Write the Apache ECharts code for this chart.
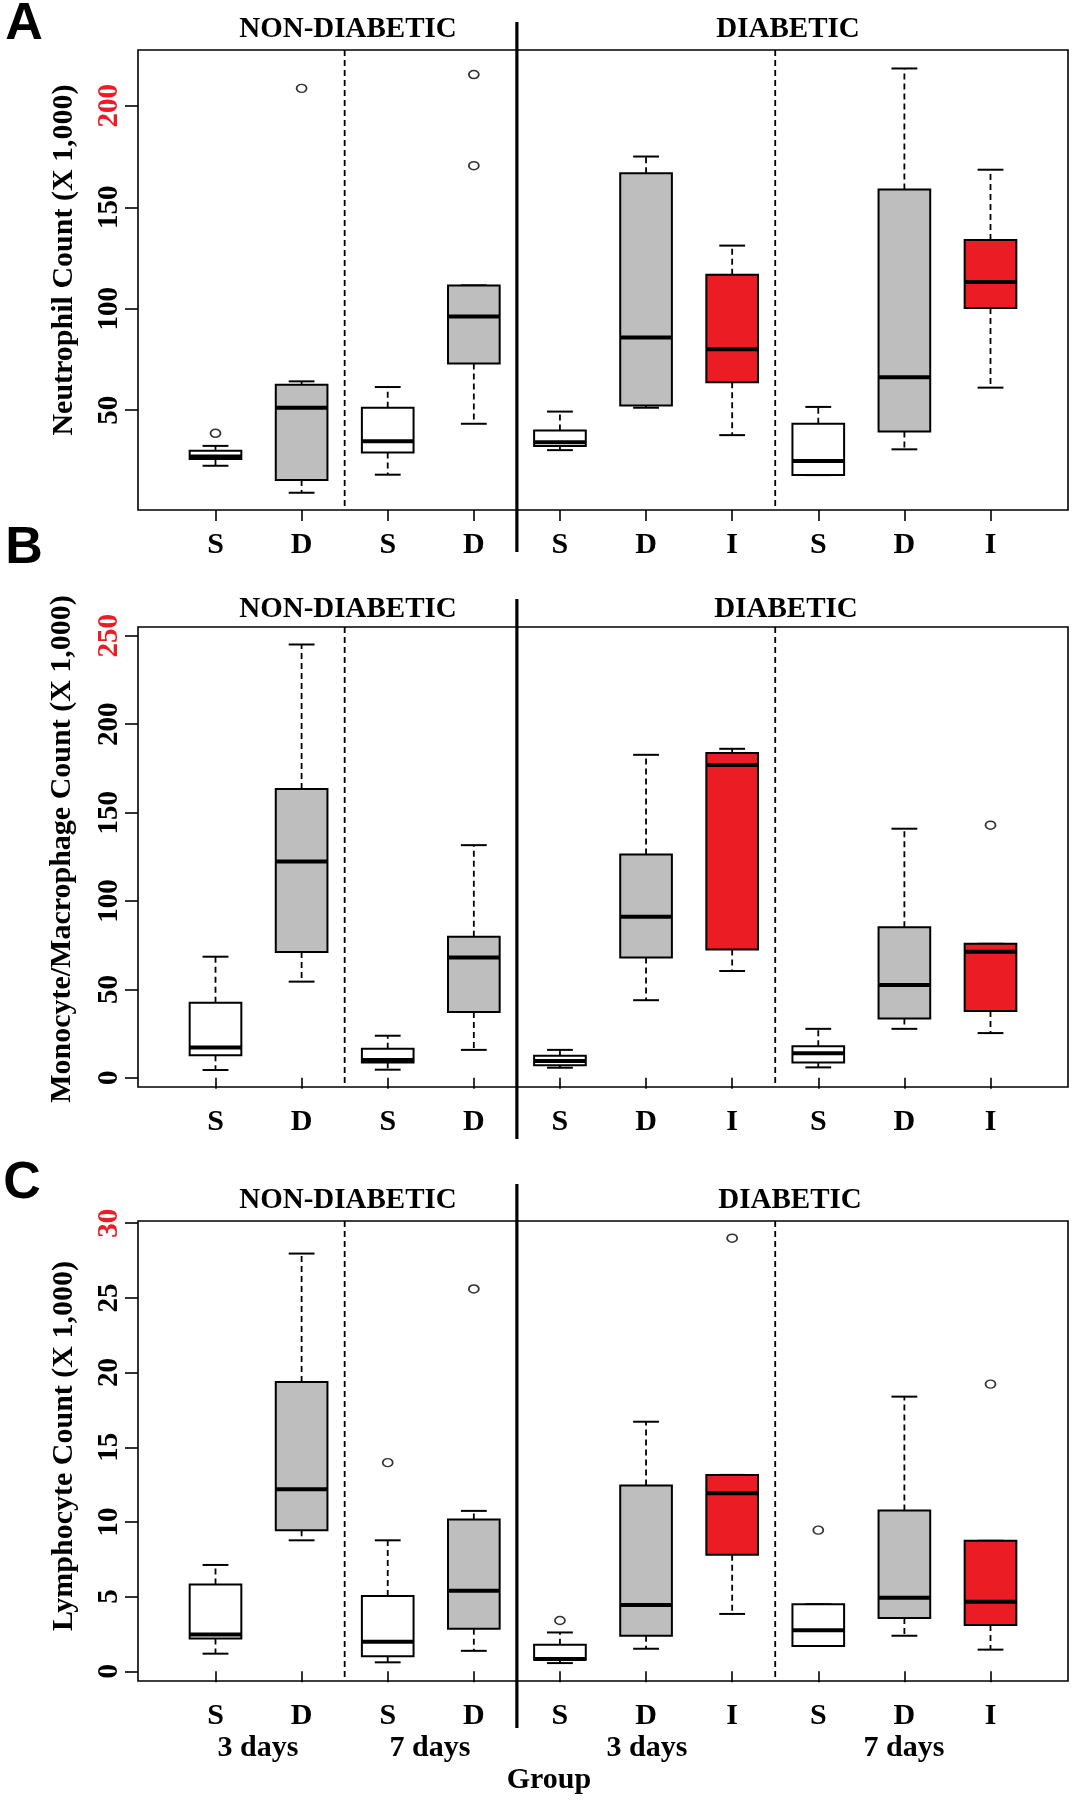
<!DOCTYPE html>
<html><head><meta charset="utf-8">
<script src="https://cdn.jsdelivr.net/npm/echarts@6/dist/echarts.min.js"></script>
<style>html,body{margin:0;padding:0;background:#fff}#c{width:1074px;height:1800px}</style>
</head><body><div id="c"></div><script>
// ---------- DATA ----------
const groupLabels = ['S','D','S','D','S','D','I','S','D','I'];
// five-number summaries: [lower whisker, Q1, median, Q3, upper whisker]
const neutrophilStats = [
  [22.6, 25.9, 27.2, 30.0, 32.4],
  [9.3, 15.6, 51.2, 62.5, 64.2],
  [18.2, 29.1, 34.7, 51.2, 61.4],
  [43.3, 73.0, 96.2, 111.5, 111.5],
  [30.3, 32.4, 34.2, 40.0, 49.3],
  [51.2, 52.3, 85.8, 166.8, 175.0],
  [37.7, 63.7, 80.0, 116.7, 131.1],
  [18.0, 18.0, 24.9, 43.3, 51.6],
  [30.7, 39.5, 66.2, 158.7, 218.4],
  [61.1, 100.4, 113.2, 133.9, 168.5]
];
const neutrophilOutliers = [[1, 38.6], [2, 208.6], [4, 170.5], [4, 215.4]];
const neutrophilTicks = [50, 100, 150, 200];
const neutrophilRange = [0.8, 227.5];

const monocyteStats = [
  [4.4, 12.7, 17.2, 42.4, 68.5],
  [54.4, 71.1, 122.3, 163.3, 245.1],
  [4.6, 8.7, 10.1, 16.4, 23.8],
  [15.8, 37.2, 68.1, 79.8, 131.6],
  [5.7, 7.1, 9.5, 12.5, 15.8],
  [43.9, 68.1, 91.1, 126.3, 182.7],
  [60.4, 72.6, 177.0, 183.7, 186.1],
  [5.9, 8.7, 13.9, 17.8, 27.7],
  [27.7, 33.5, 52.5, 85.1, 140.9],
  [25.3, 37.8, 71.3, 75.8, 75.8]
];
const monocyteOutliers = [[10, 142.9]];
const monocyteTicks = [0, 50, 100, 150, 200, 250];
const monocyteRange = [-5.2, 255];

const lymphocyteStats = [
  [1.18, 2.19, 2.47, 5.81, 7.12],
  [8.77, 9.45, 12.19, 19.37, 27.97],
  [0.6, 1.01, 1.97, 5.04, 8.77],
  [1.37, 2.85, 5.40, 10.16, 10.74],
  [0.55, 0.77, 0.82, 1.78, 2.60],
  [1.51, 2.38, 4.44, 12.44, 16.71],
  [3.84, 7.81, 11.92, 13.15, 13.15],
  [1.70, 1.70, 2.74, 4.49, 4.49],
  [2.38, 3.56, 4.93, 10.77, 18.39],
  [1.45, 3.10, 4.66, 8.74, 8.74]
];
const lymphocyteOutliers = [[3, 13.97], [4, 25.6], [5, 3.40], [7, 29.0], [8, 9.45], [10, 19.23]];
const lymphocyteTicks = [0, 5, 10, 15, 20, 25, 30];
const lymphocyteRange = [-0.65, 30.15];

const dayLabels = ['3 days', '7 days', '3 days', '7 days'];
const cohortLabels = ['NON-DIABETIC', 'DIABETIC'];
const panelLetters = ['A', 'B', 'C'];
const axisTitles = ['Neutrophil Count (X 1,000)', 'Monocyte/Macrophage Count (X 1,000)', 'Lymphocyte Count (X 1,000)'];
const dashedSeparators = [2.5, 7.5];
const thickSeparator = 4.5;

// ---------- STYLE ----------
const SERIF = '"Liberation Serif","Times New Roman",serif';
const SANS = '"Liberation Sans",Arial,sans-serif';
const FILLS = {S: '#ffffff', D: '#bebebe', I: '#ec1c24'};
const RED = '#ec1c24';
const BOX_W = 0.6, CAP_W = 0.3;

const panels = [
  {stats: neutrophilStats, out: neutrophilOutliers, ticks: neutrophilTicks, range: neutrophilRange,
   top: 50, sepTop: 28, sepBottom: 42},
  {stats: monocyteStats, out: monocyteOutliers, ticks: monocyteTicks, range: monocyteRange,
   top: 627, sepTop: 28, sepBottom: 52},
  {stats: lymphocyteStats, out: lymphocyteOutliers, ticks: lymphocyteTicks, range: lymphocyteRange,
   top: 1221, sepTop: 37, sepBottom: 47}
];
const GRID_H = 460;
const POSITIONS = groupLabels.map((_, i) => i + 1);

function renderBox(params, api) {
  const x = api.value(0);
  const lo = api.value(1), q1 = api.value(2), med = api.value(3), q3 = api.value(4), hi = api.value(5);
  const kind = groupLabels[api.value(6)];
  const bw = api.size([BOX_W, 0])[0];
  const cw = api.size([CAP_W, 0])[0];
  const c = v => api.coord([x, v]);
  const pLo = c(lo), pQ1 = c(q1), pMed = c(med), pQ3 = c(q3), pHi = c(hi);
  const cx = pMed[0];
  const dashed = {stroke: '#000', lineWidth: 1.8, lineDash: [6, 4]};
  const solid = {stroke: '#000', lineWidth: 2};
  return {type: 'group', children: [
    {type: 'line', shape: {x1: cx, y1: pQ1[1], x2: cx, y2: pLo[1]}, style: dashed},
    {type: 'line', shape: {x1: cx, y1: pQ3[1], x2: cx, y2: pHi[1]}, style: dashed},
    {type: 'line', shape: {x1: cx - cw / 2, y1: pLo[1], x2: cx + cw / 2, y2: pLo[1]}, style: solid},
    {type: 'line', shape: {x1: cx - cw / 2, y1: pHi[1], x2: cx + cw / 2, y2: pHi[1]}, style: solid},
    {type: 'rect', shape: {x: cx - bw / 2, y: pQ3[1], width: bw, height: pQ1[1] - pQ3[1]},
     style: {fill: FILLS[kind], stroke: '#000', lineWidth: 2}},
    {type: 'line', shape: {x1: cx - bw / 2, y1: pMed[1], x2: cx + bw / 2, y2: pMed[1]},
     style: {stroke: '#000', lineWidth: 4}}
  ]};
}

function makeSepRender(p) {
  return function (params, api) {
    const x = api.coord([api.value(0), p.range[0]])[0];
    const cs = params.coordSys;
    if (api.value(1) === 1) {
      return {type: 'line', shape: {x1: x, y1: cs.y - p.sepTop, x2: x, y2: cs.y + cs.height + p.sepBottom},
              style: {stroke: '#000', lineWidth: 3.2}};
    }
    return {type: 'line', shape: {x1: x, y1: cs.y, x2: x, y2: cs.y + cs.height},
            style: {stroke: '#000', lineWidth: 1.8, lineDash: [6, 4]}};
  };
}

const grid = [], xAxis = [], yAxis = [], series = [];
panels.forEach((p, k) => {
  grid.push({left: 138, right: 6, top: p.top, height: GRID_H, show: true,
             borderColor: '#000', borderWidth: 1.6, backgroundColor: 'transparent'});
  xAxis.push({type: 'value', gridIndex: k, min: 0.1, max: 10.9,
    axisLine: {show: false}, splitLine: {show: false},
    axisTick: {show: true, customValues: POSITIONS, length: 11, lineStyle: {color: '#000', width: 1.6}},
    axisLabel: {show: true, customValues: POSITIONS, margin: 20,
      formatter: v => groupLabels[Math.round(v) - 1] || '',
      fontFamily: SERIF, fontWeight: 'bold', fontSize: 30, color: '#000'}
  });
  const topTick = p.ticks[p.ticks.length - 1];
  yAxis.push({type: 'value', gridIndex: k, min: p.range[0], max: p.range[1],
    axisLine: {show: false}, splitLine: {show: false},
    axisTick: {show: true, customValues: p.ticks, length: 13, lineStyle: {color: '#000', width: 1.6}},
    axisLabel: {show: true, customValues: p.ticks, rotate: 90, margin: 14,
      fontFamily: SERIF, fontWeight: 'bold', fontSize: 29,
      color: v => (Number(v) === topTick ? RED : '#000')}
  });
  series.push({type: 'custom', xAxisIndex: k, yAxisIndex: k, clip: false, silent: true,
    renderItem: makeSepRender(p),
    data: dashedSeparators.map(v => [v, 0]).concat([[thickSeparator, 1]])});
  series.push({type: 'custom', xAxisIndex: k, yAxisIndex: k, silent: true,
    renderItem: renderBox,
    encode: {x: 0, y: [1, 2, 3, 4, 5]},
    data: p.stats.map((s, i) => [POSITIONS[i], s[0], s[1], s[2], s[3], s[4], i])});
  series.push({type: 'scatter', xAxisIndex: k, yAxisIndex: k, silent: true,
    symbol: 'circle', symbolSize: [10, 8],
    itemStyle: {color: 'rgba(255,255,255,0)', borderColor: '#000', borderWidth: 1.6},
    data: p.out});
});

function txt(x, y, text, size, font, rot) {
  return {type: 'text', x: x, y: y, rotation: rot || 0,
    style: {text: text, font: 'bold ' + size + 'px ' + (font || SERIF), fill: '#000',
            textAlign: 'center', textVerticalAlign: 'middle'}};
}
const graphic = [
  txt(24, 25, panelLetters[0], 52, SANS), txt(24, 549, panelLetters[1], 52, SANS), txt(22, 1184, panelLetters[2], 52, SANS),
  txt(64, 260, axisTitles[0], 30, SERIF, Math.PI / 2),
  txt(62, 849, axisTitles[1], 30, SERIF, Math.PI / 2),
  txt(64, 1446, axisTitles[2], 30, SERIF, Math.PI / 2),
  txt(348, 30, cohortLabels[0], 29), txt(788, 30, cohortLabels[1], 29),
  txt(348, 610, cohortLabels[0], 29), txt(786, 610, cohortLabels[1], 29),
  txt(348, 1201, cohortLabels[0], 29), txt(790, 1201, cohortLabels[1], 29),
  txt(258, 1748, dayLabels[0], 30), txt(430, 1748, dayLabels[1], 30),
  txt(647, 1748, dayLabels[2], 30), txt(904, 1748, dayLabels[3], 30),
  txt(549, 1780, 'Group', 30)
];

const chart = echarts.init(document.getElementById('c'), null, {renderer: 'canvas'});
chart.setOption({animation: false, backgroundColor: '#fff', grid, xAxis, yAxis, series, graphic});
</script></body></html>
